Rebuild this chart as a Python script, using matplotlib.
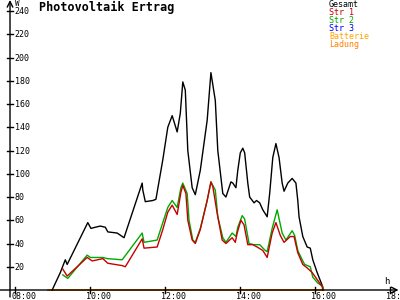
import matplotlib
matplotlib.use('Agg')
import matplotlib.pyplot as plt
from matplotlib.transforms import offset_copy

# Data (time of day, watts)
gesamt_t = ['08:59', '09:12', '09:20', '09:23', '09:56', '10:01', '10:08', '10:16', '10:24',
            '10:28', '10:43', '10:54', '11:23', '11:24', '11:28', '11:40', '11:45', '11:56',
            '12:04', '12:11', '12:19', '12:24', '12:28', '12:32', '12:36', '12:43', '12:48',
            '12:56', '13:07', '13:13', '13:20', '13:24', '13:32', '13:37', '13:45', '13:48',
            '13:53', '13:56', '14:00', '14:04', '14:07', '14:12', '14:15', '14:22', '14:26',
            '14:31', '14:36', '14:43', '14:47', '14:52', '14:57', '15:02', '15:07', '15:10',
            '15:16', '15:23', '15:29', '15:32', '15:34', '15:40', '15:47', '15:52', '15:56',
            '16:03', '16:11', '16:13']
gesamt_w = [0, 15, 26, 22, 58, 53, 54, 55, 54,
            50, 49, 45, 92, 86, 76, 77, 78, 112,
            140, 150, 136, 152, 179, 172, 120, 88, 82,
            103, 146, 187, 163, 120, 83, 80, 93, 92,
            88, 103, 118, 122, 118, 92, 80, 75, 77,
            75, 69, 63, 83, 114, 126, 114, 92, 85,
            92, 96, 92, 77, 63, 46, 37, 36, 26,
            15, 4, 0]

str1_t = ['09:16', '09:23', '09:55', '10:03', '10:20', '10:28', '10:51', '10:56', '11:23',
          '11:26', '11:47', '11:56', '12:04', '12:11', '12:19', '12:25', '12:28', '12:33',
          '12:36', '12:43', '12:48', '12:56', '13:07', '13:13', '13:16', '13:23', '13:31',
          '13:37', '13:47', '13:52', '13:55', '14:01', '14:06', '14:12', '14:20', '14:27',
          '14:36', '14:43', '14:51', '14:57', '15:04', '15:10', '15:20', '15:26', '15:32',
          '15:40', '15:47', '15:55', '16:03', '16:11', '16:12']
str1_w = [18, 12, 28, 25, 27, 23, 21, 20, 44,
          36, 37, 52, 67, 73, 65, 84, 90, 83,
          60, 43, 40, 52, 77, 93, 89, 66, 43,
          40, 45, 41, 49, 60, 56, 39, 39, 37,
          34, 28, 49, 58, 47, 41, 46, 46, 32,
          22, 19, 15, 9, 3, 0]

str2_t = ['09:16', '09:24', '09:55', '10:00', '10:20', '10:27', '10:51', '11:23', '11:26',
          '11:47', '11:56', '12:04', '12:11', '12:19', '12:25', '12:28', '12:35', '12:38',
          '12:44', '12:48', '12:56', '13:07', '13:13', '13:20', '13:24', '13:32', '13:37',
          '13:47', '13:53', '13:56', '14:03', '14:07', '14:14', '14:22', '14:31', '14:40',
          '14:43', '14:51', '14:59', '15:07', '15:13', '15:23', '15:27', '15:32', '15:39',
          '15:43', '15:52', '15:56', '16:04', '16:12', '16:13']
str2_w = [13, 10, 30, 28, 28, 27, 26, 49, 41,
          43, 58, 71, 77, 71, 88, 92, 83, 60,
          43, 41, 53, 77, 93, 86, 63, 45, 41,
          49, 46, 54, 64, 61, 40, 39, 39, 34,
          33, 53, 69, 49, 43, 51, 47, 34, 26,
          22, 20, 11, 6, 3, 0]

batt_t = ['08:52', '16:12']
batt_w = [0, 0]

legend_names = ['Gesamt', 'Str 1', 'Str 2', 'Str 3', 'Batterie', 'Ladung']
legend_colors = ['#000000', '#c80000', '#00a800', '#0000ff', '#ffa500', '#ff8000']

y_ticks = list(range(20, 241, 20))
x_ticks = [8, 10, 12, 14, 16, 18]


def hours(ts):
    return [int(s[:2]) + int(s[3:]) / 60 for s in ts]


fig = plt.figure(figsize=(4, 3), dpi=100)
ax = fig.add_axes([0, 0, 1, 1])
ax.axis('off')
ax.set_xlim(7.592, 18.259)
ax.set_ylim(-8.6, 249.5)

mono = 'DejaVu Sans Mono'
x0 = 7.859  # position of the y axis

# curves
ax.plot(hours(batt_t), batt_w, color=legend_colors[4], lw=1.2)
ax.plot(hours(batt_t), batt_w, color=legend_colors[5], lw=1.2)
ax.plot(hours(gesamt_t), gesamt_w, color=legend_colors[0], lw=1)
ax.plot(hours(str2_t), str2_w, color=legend_colors[2], lw=1)
ax.plot(hours(str1_t), str1_w, color=legend_colors[1], lw=1)

# axes with arrows
ax.annotate('', xy=(18.22, 0), xytext=(7.592, 0),
            arrowprops=dict(arrowstyle='->', lw=1, color='black', shrinkA=0, shrinkB=0))
ax.annotate('', xy=(x0, 249.5), xytext=(x0, -6),
            arrowprops=dict(arrowstyle='->', lw=1, color='black', shrinkA=0, shrinkB=0))

# y ticks
for v in y_ticks:
    ax.plot([x0 - 0.08, x0 + 0.08], [v, v], color='black', lw=1)
    ax.text(x0, v, str(v), fontsize=6, family=mono, ha='left', va='center',
            transform=offset_copy(ax.transData, fig=fig, x=3.5, y=-0.5, units='points'))

# x ticks
for h in x_ticks:
    ax.plot([h, h], [-2.6, 2.6], color='black', lw=1)
    ax.text(h, 0, '%02d:00' % h, fontsize=6, family=mono, ha='left', va='top',
            transform=offset_copy(ax.transData, fig=fig, x=-3, y=-1.3, units='points'))

fig.text(15 / 400, 1 - 4 / 300, 'W', fontsize=5.5, family=mono, va='center')
fig.text(384 / 400, 1 - 282 / 300, 'h', fontsize=6.5, family=mono, va='center')

fig.text(39 / 400, 1 - 7.5 / 300, 'Photovoltaik Ertrag', fontsize=8.5, family=mono,
         weight='bold', va='center')

for i, (name, c) in enumerate(zip(legend_names, legend_colors)):
    fig.text(329 / 400, 1 - (4.5 + 8 * i) / 300, name, fontsize=6, family=mono,
             color=c, va='center')

fig.savefig('out.png', dpi=100)
